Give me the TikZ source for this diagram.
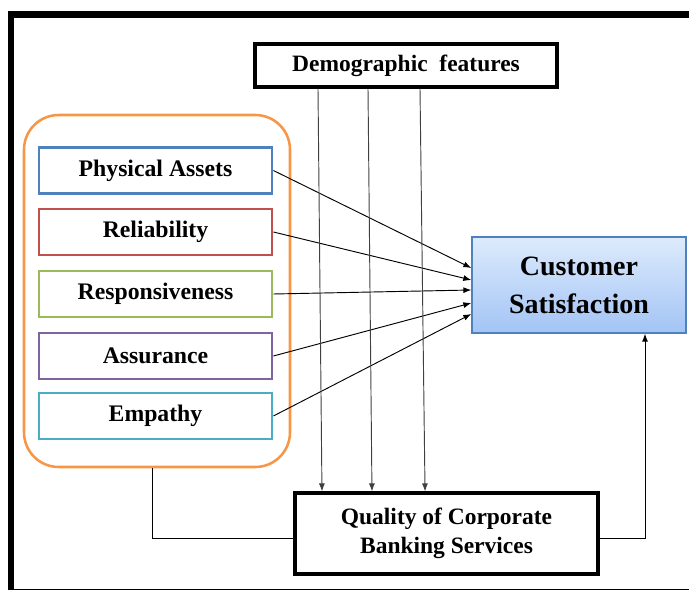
\documentclass[tikz,border=0pt]{standalone}
\usepackage{fontspec}
\setmainfont{Liberation Serif}
\usepackage{tikz}
\usetikzlibrary{arrows.meta}
\definecolor{physcol}{HTML}{4F81BD}
\definecolor{relcol}{HTML}{C0504D}
\definecolor{respcol}{HTML}{9BBB59}
\definecolor{asscol}{HTML}{8064A2}
\definecolor{empcol}{HTML}{4BACC6}
\definecolor{grpcol}{HTML}{F79646}
\definecolor{cstop}{HTML}{DDEBFC}
\definecolor{csbot}{HTML}{A3C4F5}

\begin{document}
\begin{tikzpicture}[x=0.75pt,y=-0.75pt,
    item/.style={draw,line width=2.1pt,fill=white,minimum width=174.75pt,minimum height=34.5pt,inner sep=0pt,font=\fontsize{17.8}{20}\selectfont\bfseries},
    plainbox/.style={draw,line width=2.3pt,fill=white,inner sep=0pt,align=center,font=\fontsize{17.6}{22}\selectfont\bfseries},
    link/.style={line width=0.7pt,-{Latex[length=6pt,width=4.5pt]}}
  ]
    \useasboundingbox (0,0) rectangle (689,592);

    \draw[line width=5.25pt] (8,14.5) -- (689,14.5);
    \draw[line width=4.5pt] (11,12) -- (11,590);
    \draw[line width=1.2pt] (11,589.5) -- (689,589.5);

    \node (grp) [draw=grpcol,line width=1.9pt,rounded corners=26pt,minimum width=199.5pt,minimum height=264pt] at (157,291) {};

    \node (demo) [plainbox,minimum width=226.5pt,minimum height=32.25pt] at (406,65.5) {Demographic\ \ features};
    \node (phys) [item,draw=physcol] at (155.5,170.5) {Physical Assets};
    \node (rel) [item,draw=relcol] at (155.5,232) {Reliability};
    \node (resp) [item,draw=respcol] at (155.5,294) {Responsiveness};
    \node (ass) [item,draw=asscol] at (155.5,356) {Assurance};
    \node (emp) [item,draw=empcol] at (155.5,416) {Empathy};
    \node (cs) [draw=physcol,line width=1pt,top color=cstop,bottom color=csbot,minimum width=160.5pt,minimum height=72pt,inner sep=0pt,align=center,font=\fontsize{21}{28.5}\selectfont\bfseries] at (579,285) {Customer\\Satisfaction};
    \node (qual) [plainbox,minimum width=227.25pt,minimum height=60.75pt] at (446.5,533.5) {Quality of Corporate\\Banking Services};

    \draw[link] (phys.east) -- ([yshift=12.75pt]cs.west);
    \draw[link] (rel.east) -- ([yshift=3.75pt]cs.west);
    \draw[link] (resp.east) -- ([yshift=-3.75pt]cs.west);
    \draw[link] (ass.east) -- ([yshift=-13.5pt]cs.west);
    \draw[link] (emp.east) -- ([yshift=-21.75pt]cs.west);

    \foreach \a/\b in {-66/-93.4,-28.5/-55.9,10.5/-16.1}
        \draw[link,black!75] ([xshift=\a pt]demo.south) -- ([xshift=\b pt]qual.north);

    \draw[line width=0.7pt] ([xshift=-3.75pt]grp.south) |- ([yshift=-3.5pt]qual.west);
    \draw[link] ([yshift=-3.5pt]qual.east) -| ([xshift=49.5pt]cs.south);
\end{tikzpicture}
\end{document}
